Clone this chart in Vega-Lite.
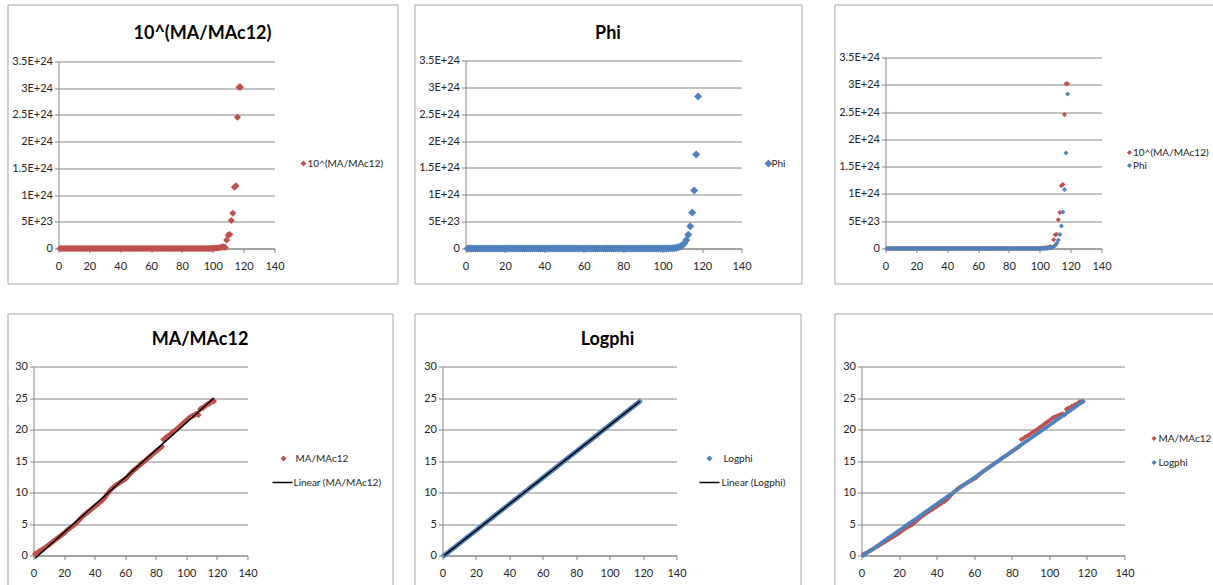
{
 "$schema": "https://vega.github.io/schema/vega-lite/v6.json",
 "padding": {"left": 6.5, "top": 3.5, "right": 0, "bottom": 0},
 "background": "white",
 "data": {"values": [
  {"n":1,"ma":0.25,"ten":1.78,"phi":1,"logphi":0},
  {"n":2,"ma":0.36,"ten":2.29,"phi":1.618,"logphi":0.21},
  {"n":3,"ma":0.52,"ten":3.31,"phi":2.618,"logphi":0.42},
  {"n":4,"ma":0.68,"ten":4.79,"phi":4.236,"logphi":0.63},
  {"n":5,"ma":0.84,"ten":6.92,"phi":6.854,"logphi":0.84},
  {"n":6,"ma":1.00,"ten":10,"phi":11.09,"logphi":1.05},
  {"n":7,"ma":1.15,"ten":14.1,"phi":17.94,"logphi":1.25},
  {"n":8,"ma":1.34,"ten":21.9,"phi":29.03,"logphi":1.46},
  {"n":9,"ma":1.52,"ten":33.1,"phi":46.98,"logphi":1.67},
  {"n":10,"ma":1.70,"ten":50.1,"phi":76.01,"logphi":1.88},
  {"n":11,"ma":1.89,"ten":77.6,"phi":123.0,"logphi":2.09},
  {"n":12,"ma":2.08,"ten":120,"phi":199.0,"logphi":2.30},
  {"n":13,"ma":2.26,"ten":182,"phi":322.0,"logphi":2.51},
  {"n":14,"ma":2.44,"ten":275,"phi":521.0,"logphi":2.72},
  {"n":15,"ma":2.63,"ten":427,"phi":843.0,"logphi":2.93},
  {"n":16,"ma":2.82,"ten":661,"phi":1364,"logphi":3.14},
  {"n":17,"ma":2.99,"ten":977,"phi":2207,"logphi":3.34},
  {"n":18,"ma":3.17,"ten":1479,"phi":3571,"logphi":3.55},
  {"n":19,"ma":3.36,"ten":2291,"phi":5778,"logphi":3.76},
  {"n":20,"ma":3.55,"ten":3548,"phi":9349,"logphi":3.97},
  {"n":21,"ma":3.78,"ten":6026,"phi":15127,"logphi":4.18},
  {"n":22,"ma":4.01,"ten":10233,"phi":24476,"logphi":4.39},
  {"n":23,"ma":4.20,"ten":15849,"phi":39603,"logphi":4.60},
  {"n":24,"ma":4.39,"ten":24547,"phi":64079,"logphi":4.81},
  {"n":25,"ma":4.57,"ten":37154,"phi":103682,"logphi":5.02},
  {"n":26,"ma":4.73,"ten":53703,"phi":167761,"logphi":5.23},
  {"n":27,"ma":4.91,"ten":81283,"phi":271443,"logphi":5.43},
  {"n":28,"ma":5.14,"ten":138038,"phi":439204,"logphi":5.64},
  {"n":29,"ma":5.40,"ten":251189,"phi":710647,"logphi":5.85},
  {"n":30,"ma":5.66,"ten":457088,"phi":1149851,"logphi":6.06},
  {"n":31,"ma":5.92,"ten":831764,"phi":1860498,"logphi":6.27},
  {"n":32,"ma":6.18,"ten":1.514e6,"phi":3010349,"logphi":6.48},
  {"n":33,"ma":6.39,"ten":2.455e6,"phi":4.871e6,"logphi":6.69},
  {"n":34,"ma":6.60,"ten":3.981e6,"phi":7.881e6,"logphi":6.90},
  {"n":35,"ma":6.79,"ten":6.166e6,"phi":1.275e7,"logphi":7.11},
  {"n":36,"ma":6.97,"ten":9.333e6,"phi":2.063e7,"logphi":7.32},
  {"n":37,"ma":7.17,"ten":1.479e7,"phi":3.339e7,"logphi":7.52},
  {"n":38,"ma":7.36,"ten":2.291e7,"phi":5.402e7,"logphi":7.73},
  {"n":39,"ma":7.56,"ten":3.631e7,"phi":8.740e7,"logphi":7.94},
  {"n":40,"ma":7.75,"ten":5.623e7,"phi":1.414e8,"logphi":8.15},
  {"n":41,"ma":7.96,"ten":9.120e7,"phi":2.288e8,"logphi":8.36},
  {"n":42,"ma":8.15,"ten":1.413e8,"phi":3.702e8,"logphi":8.57},
  {"n":43,"ma":8.36,"ten":2.291e8,"phi":5.991e8,"logphi":8.78},
  {"n":44,"ma":8.55,"ten":3.548e8,"phi":9.693e8,"logphi":8.99},
  {"n":45,"ma":8.75,"ten":5.623e8,"phi":1.568e9,"logphi":9.20},
  {"n":46,"ma":8.99,"ten":9.772e8,"phi":2.538e9,"logphi":9.41},
  {"n":47,"ma":9.31,"ten":2.042e9,"phi":4.106e9,"logphi":9.61},
  {"n":48,"ma":9.67,"ten":4.677e9,"phi":6.644e9,"logphi":9.82},
  {"n":49,"ma":9.98,"ten":9.550e9,"phi":1.075e10,"logphi":10.03},
  {"n":50,"ma":10.29,"ten":1.950e10,"phi":1.739e10,"logphi":10.24},
  {"n":51,"ma":10.55,"ten":3.548e10,"phi":2.814e10,"logphi":10.45},
  {"n":52,"ma":10.78,"ten":6.026e10,"phi":4.554e10,"logphi":10.66},
  {"n":53,"ma":10.97,"ten":9.333e10,"phi":7.368e10,"logphi":10.87},
  {"n":54,"ma":11.16,"ten":1.445e11,"phi":1.192e11,"logphi":11.08},
  {"n":55,"ma":11.34,"ten":2.188e11,"phi":1.929e11,"logphi":11.29},
  {"n":56,"ma":11.50,"ten":3.162e11,"phi":3.121e11,"logphi":11.50},
  {"n":57,"ma":11.65,"ten":4.467e11,"phi":5.050e11,"logphi":11.70},
  {"n":58,"ma":11.81,"ten":6.457e11,"phi":8.171e11,"logphi":11.91},
  {"n":59,"ma":11.97,"ten":9.333e11,"phi":1.322e12,"logphi":12.12},
  {"n":60,"ma":12.13,"ten":1.349e12,"phi":2.139e12,"logphi":12.33},
  {"n":61,"ma":12.34,"ten":2.188e12,"phi":3.461e12,"logphi":12.54},
  {"n":62,"ma":12.63,"ten":4.266e12,"phi":5.600e12,"logphi":12.75},
  {"n":63,"ma":12.91,"ten":8.128e12,"phi":9.062e12,"logphi":12.96},
  {"n":64,"ma":13.17,"ten":1.479e13,"phi":1.466e13,"logphi":13.17},
  {"n":65,"ma":13.40,"ten":2.512e13,"phi":2.372e13,"logphi":13.38},
  {"n":66,"ma":13.62,"ten":4.169e13,"phi":3.838e13,"logphi":13.59},
  {"n":67,"ma":13.81,"ten":6.457e13,"phi":6.211e13,"logphi":13.79},
  {"n":68,"ma":14.00,"ten":1.000e14,"phi":1.005e14,"logphi":14.00},
  {"n":69,"ma":14.23,"ten":1.698e14,"phi":1.626e14,"logphi":14.21},
  {"n":70,"ma":14.45,"ten":2.818e14,"phi":2.631e14,"logphi":14.42},
  {"n":71,"ma":14.65,"ten":4.467e14,"phi":4.257e14,"logphi":14.63},
  {"n":72,"ma":14.84,"ten":6.918e14,"phi":6.888e14,"logphi":14.84},
  {"n":73,"ma":15.03,"ten":1.072e15,"phi":1.115e15,"logphi":15.05},
  {"n":74,"ma":15.26,"ten":1.820e15,"phi":1.803e15,"logphi":15.26},
  {"n":75,"ma":15.49,"ten":3.090e15,"phi":2.918e15,"logphi":15.47},
  {"n":76,"ma":15.68,"ten":4.786e15,"phi":4.721e15,"logphi":15.68},
  {"n":77,"ma":15.86,"ten":7.244e15,"phi":7.639e15,"logphi":15.88},
  {"n":78,"ma":16.09,"ten":1.230e16,"phi":1.236e16,"logphi":16.09},
  {"n":79,"ma":16.32,"ten":2.089e16,"phi":2.000e16,"logphi":16.30},
  {"n":80,"ma":16.51,"ten":3.236e16,"phi":3.236e16,"logphi":16.51},
  {"n":81,"ma":16.70,"ten":5.012e16,"phi":5.236e16,"logphi":16.72},
  {"n":82,"ma":16.89,"ten":7.762e16,"phi":8.472e16,"logphi":16.93},
  {"n":83,"ma":17.09,"ten":1.230e17,"phi":1.371e17,"logphi":17.14},
  {"n":84,"ma":17.30,"ten":1.995e17,"phi":2.218e17,"logphi":17.35},
  {"n":85,"ma":18.41,"ten":2.570e18,"phi":3.589e17,"logphi":17.56},
  {"n":86,"ma":18.57,"ten":3.715e18,"phi":5.807e17,"logphi":17.77},
  {"n":87,"ma":18.77,"ten":5.888e18,"phi":9.396e17,"logphi":17.97},
  {"n":88,"ma":18.96,"ten":9.120e18,"phi":1.520e18,"logphi":18.18},
  {"n":89,"ma":19.14,"ten":1.380e19,"phi":2.460e18,"logphi":18.39},
  {"n":90,"ma":19.32,"ten":2.089e19,"phi":3.980e18,"logphi":18.60},
  {"n":91,"ma":19.56,"ten":3.631e19,"phi":6.440e18,"logphi":18.81},
  {"n":92,"ma":19.74,"ten":5.495e19,"phi":1.042e19,"logphi":19.02},
  {"n":93,"ma":19.93,"ten":8.511e19,"phi":1.686e19,"logphi":19.23},
  {"n":94,"ma":20.12,"ten":1.318e20,"phi":2.728e19,"logphi":19.44},
  {"n":95,"ma":20.35,"ten":2.239e20,"phi":4.414e19,"logphi":19.65},
  {"n":96,"ma":20.56,"ten":3.631e20,"phi":7.142e19,"logphi":19.86},
  {"n":97,"ma":20.78,"ten":6.026e20,"phi":1.156e20,"logphi":20.06},
  {"n":98,"ma":21.02,"ten":1.047e21,"phi":1.870e20,"logphi":20.27},
  {"n":99,"ma":21.23,"ten":1.698e21,"phi":3.026e20,"logphi":20.48},
  {"n":100,"ma":21.41,"ten":2.570e21,"phi":4.896e20,"logphi":20.69},
  {"n":101,"ma":21.65,"ten":4.467e21,"phi":7.922e20,"logphi":20.90},
  {"n":102,"ma":21.89,"ten":7.762e21,"phi":1.282e21,"logphi":21.11},
  {"n":103,"ma":22.04,"ten":1.096e22,"phi":2.074e21,"logphi":21.32},
  {"n":104,"ma":22.15,"ten":1.413e22,"phi":3.356e21,"logphi":21.53},
  {"n":105,"ma":22.26,"ten":1.820e22,"phi":5.430e21,"logphi":21.74},
  {"n":106,"ma":22.40,"ten":2.512e22,"phi":8.786e21,"logphi":21.95},
  {"n":107,"ma":22.50,"ten":3.162e22,"phi":1.422e22,"logphi":22.15},
  {"n":108,"ma":22.31,"ten":2.042e22,"phi":2.300e22,"logphi":22.36},
  {"n":109,"ma":23.20,"ten":1.585e23,"phi":3.722e22,"logphi":22.57},
  {"n":110,"ma":23.40,"ten":2.512e23,"phi":6.022e22,"logphi":22.78},
  {"n":111,"ma":23.42,"ten":2.630e23,"phi":9.744e22,"logphi":22.99},
  {"n":112,"ma":23.72,"ten":5.248e23,"phi":1.577e23,"logphi":23.20},
  {"n":113,"ma":23.82,"ten":6.607e23,"phi":2.551e23,"logphi":23.41},
  {"n":114,"ma":24.06,"ten":1.148e24,"phi":4.128e23,"logphi":23.62},
  {"n":115,"ma":24.07,"ten":1.175e24,"phi":6.679e23,"logphi":23.83},
  {"n":116,"ma":24.39,"ten":2.455e24,"phi":1.081e24,"logphi":24.03},
  {"n":117,"ma":24.48,"ten":3.020e24,"phi":1.749e24,"logphi":24.24},
  {"n":118,"ma":24.48,"ten":3.020e24,"phi":2.829e24,"logphi":24.45}
 ]},
 "config": {
  "font": "Lato",
  "view": {"stroke": "#a6a6a6", "strokeWidth": 1},
  "axis": {"labelFont": "Lato", "labelFontSize": 11, "labelColor": "#262626", "domainColor": "#868686", "tickColor": "#868686", "gridColor": "#868686", "gridOpacity": 1, "tickSize": 4, "domainWidth": 1, "gridWidth": 1, "labelFlush": false, "labelOverlap": false},
  "axisX": {"grid": false, "labelPadding": 8},
  "axisY": {"grid": true, "labelPadding": 2},
  "legend": {"orient": "none", "labelFont": "Lato", "labelFontSize": 10, "labelColor": "#262626", "padding": 0, "symbolStrokeWidth": 0},
  "title": {"font": "Lato", "fontSize": 18, "fontWeight": "bold", "color": "#000000", "anchor": "middle", "frame": "group"}
 },
 "resolve": {"scale": {"color": "independent", "strokeDash": "independent"}},
 "spacing": 28,
 "vconcat": [
  {
   "resolve": {"scale": {"color": "independent", "strokeDash": "independent"}},
   "spacing": 31,
   "hconcat": [
    {
     "resolve": {"scale": {"color": "independent", "strokeDash": "independent"}},
     "spacing": 15,
     "hconcat": [
      {
       "width": 390, "height": 279,
       "title": {"text": "10^(MA/MAc12)", "offset": -38},
       "mark": {"type": "point", "shape": "diamond", "filled": true, "size": 50, "opacity": 1},
       "encoding": {
        "x": {"field": "n", "type": "quantitative", "scale": {"domain": [0, 140], "range": [51, 267], "nice": false}, "axis": {"title": null, "values": [0, 20, 40, 60, 80, 100, 120, 140], "offset": -35}},
        "y": {"field": "ten", "type": "quantitative", "scale": {"domain": [0, 3.5e24], "range": [244, 57], "nice": false}, "axis": {"title": null, "values": [0, 5e23, 1e24, 1.5e24, 2e24, 2.5e24, 3e24, 3.5e24], "offset": -51, "labelExpr": "datum.value == 0 ? '0' : replace(format(datum.value, '.2~e'), 'e', 'E')"}},
        "color": {"datum": "10^(MA/MAc12)", "scale": {"range": ["#C0504D"]}, "legend": {"title": null, "legendX": 291, "legendY": 154, "symbolType": "diamond", "symbolSize": 36, "labelOffset": -1}}
       }
      },
      {
       "width": 387, "height": 279,
       "title": {"text": "Phi", "offset": -38},
       "mark": {"type": "point", "shape": "diamond", "filled": true, "size": 64, "opacity": 1},
       "encoding": {
        "x": {"field": "n", "type": "quantitative", "scale": {"domain": [0, 140], "range": [51, 327], "nice": false}, "axis": {"title": null, "values": [0, 20, 40, 60, 80, 100, 120, 140], "offset": -35}},
        "y": {"field": "phi", "type": "quantitative", "scale": {"domain": [0, 3.5e24], "range": [244, 56], "nice": false}, "axis": {"title": null, "values": [0, 5e23, 1e24, 1.5e24, 2e24, 2.5e24, 3e24, 3.5e24], "offset": -51, "labelExpr": "datum.value == 0 ? '0' : replace(format(datum.value, '.2~e'), 'e', 'E')"}},
        "color": {"datum": "Phi", "scale": {"range": ["#4F81BD"]}, "legend": {"title": null, "legendX": 349, "legendY": 154, "symbolType": "diamond", "symbolSize": 64, "labelOffset": -2}}
       }
      }
     ]
    },
    {
     "width": 384, "height": 279,
     "layer": [
      {
       "mark": {"type": "point", "shape": "diamond", "filled": true, "size": 25, "opacity": 1},
       "encoding": {
        "x": {"field": "n", "type": "quantitative", "scale": {"domain": [0, 140], "range": [51, 267], "nice": false}, "axis": {"title": null, "values": [0, 20, 40, 60, 80, 100, 120, 140], "offset": -35}},
        "y": {"field": "ten", "type": "quantitative", "scale": {"domain": [0, 3.5e24], "range": [244, 53], "nice": false}, "axis": {"title": null, "values": [0, 5e23, 1e24, 1.5e24, 2e24, 2.5e24, 3e24, 3.5e24], "offset": -51, "labelExpr": "datum.value == 0 ? '0' : replace(format(datum.value, '.2~e'), 'e', 'E')"}},
        "color": {"datum": "10^(MA/MAc12)", "scale": {"domain": ["10^(MA/MAc12)", "Phi"], "range": ["#C0504D", "#4F81BD"]}, "legend": {"title": null, "legendX": 290, "legendY": 143, "symbolType": "diamond", "symbolSize": 25, "labelOffset": -1.5, "rowPadding": 3}}
       }
      },
      {
       "mark": {"type": "point", "shape": "diamond", "filled": true, "size": 25, "opacity": 1},
       "encoding": {
        "x": {"field": "n", "type": "quantitative", "scale": {"domain": [0, 140], "range": [51, 267], "nice": false}, "axis": {"title": null, "values": [0, 20, 40, 60, 80, 100, 120, 140], "offset": -35}},
        "y": {"field": "phi", "type": "quantitative", "scale": {"domain": [0, 3.5e24], "range": [244, 53], "nice": false}, "axis": {"title": null, "values": [0, 5e23, 1e24, 1.5e24, 2e24, 2.5e24, 3e24, 3.5e24], "offset": -51, "labelExpr": "datum.value == 0 ? '0' : replace(format(datum.value, '.2~e'), 'e', 'E')"}},
        "color": {"datum": "Phi"}
       }
      }
     ]
    }
   ]
  },
  {
   "resolve": {"scale": {"color": "independent", "strokeDash": "independent"}},
   "spacing": 32,
   "hconcat": [
    {
     "resolve": {"scale": {"color": "independent", "strokeDash": "independent"}},
     "spacing": 20,
     "hconcat": [
      {
       "width": 385, "height": 280,
       "title": {"text": "MA/MAc12", "offset": -35},
       "encoding": {
        "x": {"field": "n", "type": "quantitative", "scale": {"domain": [0, 140], "range": [26, 240], "nice": false}, "axis": {"title": null, "values": [0, 20, 40, 60, 80, 100, 120, 140], "offset": -38}},
        "y": {"field": "ma", "type": "quantitative", "scale": {"domain": [0, 30], "range": [242, 53], "nice": false}, "axis": {"title": null, "values": [0, 5, 10, 15, 20, 25, 30], "offset": -26}}
       },
       "layer": [
        {
         "mark": {"type": "point", "shape": "diamond", "filled": true, "size": 40, "opacity": 1},
         "encoding": {
          "color": {"datum": "MA/MAc12", "scale": {"range": ["#C0504D"]}, "legend": {"title": null, "legendX": 271, "legendY": 140, "symbolType": "diamond", "symbolSize": 36, "labelOffset": 7}}
         }
        },
        {
         "transform": [{"regression": "ma", "on": "n"}],
         "mark": {"type": "line", "color": "#000000", "strokeWidth": 1.5},
         "encoding": {
          "strokeDash": {"datum": "Linear (MA/MAc12)", "scale": {"range": [[1, 0]]}, "legend": {"title": null, "legendX": 264, "legendY": 158, "symbolType": "stroke", "symbolSize": 400, "symbolStrokeWidth": 1.5, "symbolStrokeColor": "#000000", "labelOffset": 0}}
         }
        }
       ]
      },
      {
       "width": 386, "height": 280,
       "title": {"text": "Logphi", "offset": -35},
       "encoding": {
        "x": {"field": "n", "type": "quantitative", "scale": {"domain": [0, 140], "range": [28, 262], "nice": false}, "axis": {"title": null, "values": [0, 20, 40, 60, 80, 100, 120, 140], "offset": -38}},
        "y": {"field": "logphi", "type": "quantitative", "scale": {"domain": [0, 30], "range": [242, 53], "nice": false}, "axis": {"title": null, "values": [0, 5, 10, 15, 20, 25, 30], "offset": -28}}
       },
       "layer": [
        {
         "mark": {"type": "point", "shape": "diamond", "filled": true, "size": 40, "opacity": 1},
         "encoding": {
          "color": {"datum": "Logphi", "scale": {"range": ["#4F81BD"]}, "legend": {"title": null, "legendX": 290, "legendY": 140, "symbolType": "diamond", "symbolSize": 36, "labelOffset": 9}}
         }
        },
        {
         "transform": [{"regression": "logphi", "on": "n"}],
         "mark": {"type": "line", "color": "#000000", "strokeWidth": 1.5},
         "encoding": {
          "strokeDash": {"datum": "Linear (Logphi)", "scale": {"range": [[1, 0]]}, "legend": {"title": null, "legendX": 284, "legendY": 158, "symbolType": "stroke", "symbolSize": 400, "symbolStrokeWidth": 1.5, "symbolStrokeColor": "#000000", "labelOffset": 1}}
         }
        }
       ]
      }
     ]
    },
    {
     "width": 384, "height": 280,
     "layer": [
      {
       "mark": {"type": "point", "shape": "diamond", "filled": true, "size": 25, "opacity": 1},
       "encoding": {
        "x": {"field": "n", "type": "quantitative", "scale": {"domain": [0, 140], "range": [27, 290], "nice": false}, "axis": {"title": null, "values": [0, 20, 40, 60, 80, 100, 120, 140], "offset": -38}},
        "y": {"field": "ma", "type": "quantitative", "scale": {"domain": [0, 30], "range": [242, 53], "nice": false}, "axis": {"title": null, "values": [0, 5, 10, 15, 20, 25, 30], "offset": -27}},
        "color": {"datum": "MA/MAc12", "scale": {"domain": ["MA/MAc12", "Logphi"], "range": ["#C0504D", "#4F81BD"]}, "legend": {"title": null, "legendX": 314.5, "legendY": 120, "symbolType": "diamond", "symbolSize": 25, "labelOffset": -0.5, "rowPadding": 14}}
       }
      },
      {
       "mark": {"type": "point", "shape": "diamond", "filled": true, "size": 25, "opacity": 1},
       "encoding": {
        "x": {"field": "n", "type": "quantitative", "scale": {"domain": [0, 140], "range": [27, 290], "nice": false}, "axis": {"title": null, "values": [0, 20, 40, 60, 80, 100, 120, 140], "offset": -38}},
        "y": {"field": "logphi", "type": "quantitative", "scale": {"domain": [0, 30], "range": [242, 53], "nice": false}, "axis": {"title": null, "values": [0, 5, 10, 15, 20, 25, 30], "offset": -27}},
        "color": {"datum": "Logphi"}
       }
      }
     ]
    }
   ]
  }
 ]
}
